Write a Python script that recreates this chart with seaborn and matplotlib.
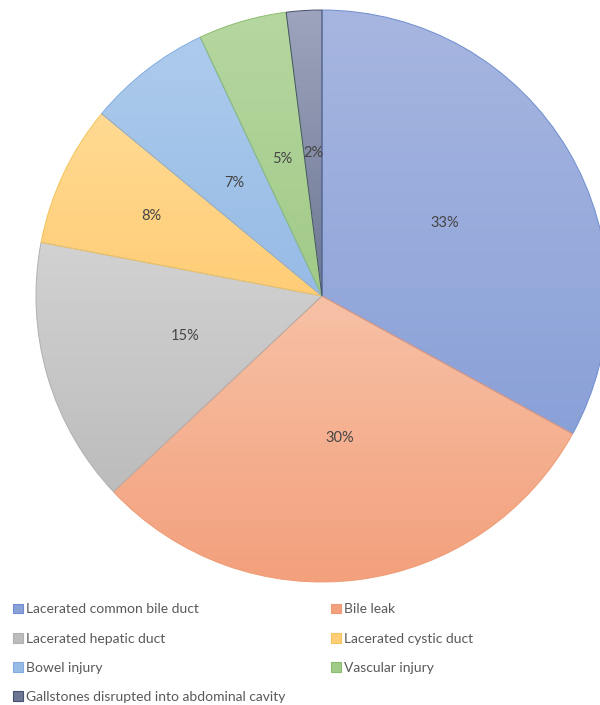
import numpy as np
import matplotlib
matplotlib.use("Agg")
import matplotlib.pyplot as plt
from matplotlib.colors import LinearSegmentedColormap
from matplotlib.patches import Patch
import seaborn as sns

categories = ['Lacerated common bile duct', 'Bile leak', 'Lacerated hepatic duct',
              'Lacerated cystic duct', 'Bowel injury', 'Vascular injury',
              'Gallstones disrupted into abdominal cavity']
shares = [33, 30, 15, 8, 7, 5, 2]
pct_labels = ['33%', '30%', '15%', '8%', '7%', '5%', '2%']

top_colors = ['#a7b6e0', '#f7c1a6', '#d2d2d2', '#ffda93', '#adcbec', '#b6d7a0', '#9ea4bd']
bottom_colors = ['#8aa1d8', '#f3a07c', '#bcbcbc', '#ffcd76', '#96bbe6', '#a1ca88', '#6d7793']
edge_colors = ['#6f8dd0', '#ee9a74', '#b0b0b0', '#f3c45e', '#82acdf', '#8cbd6f', '#46516e']

sns.set_theme(style="white")
plt.rcParams['font.family'] = ['Lato', 'DejaVu Sans']

fig = plt.figure(figsize=(6, 7.05), dpi=100)
ax = fig.add_axes([0, 0, 1, 1])

wedges, _ = ax.pie(shares, startangle=90, counterclock=False, radius=1,
                   wedgeprops=dict(linewidth=0.7))

grad = np.linspace(0, 1, 256).reshape(-1, 1)
for w, top, bot, ec in zip(wedges, top_colors, bottom_colors, edge_colors):
    w.set_facecolor('none')
    w.set_edgecolor(ec)
    w.set_zorder(3)
    ext = w.get_path().get_extents()
    cmap = LinearSegmentedColormap.from_list('g', [bot, top])
    im = ax.imshow(grad, cmap=cmap, origin='lower', aspect='auto',
                   extent=[ext.x0, ext.x1, ext.y0, ext.y1], zorder=2)
    im.set_clip_path(w)

# percentage labels (Excel "best fit" pushes the 8% one outward)
label_r = [0.5, 0.5, 0.5, 0.66, 0.5, 0.5, 0.5]
for w, txt, r in zip(wedges, pct_labels, label_r):
    mid = np.deg2rad((w.theta1 + w.theta2) / 2)
    ax.text(r * np.cos(mid), r * np.sin(mid), txt, ha='center', va='center',
            fontsize=10.5, color='#454545', zorder=5)

ax.set_xlim(-322 / 286, 278 / 286)
ax.set_ylim(-409 / 286, 296 / 286)
ax.set_aspect('auto')
ax.axis('off')

order = [0, 2, 4, 6, 1, 3, 5]
handles = [Patch(facecolor=bottom_colors[i], edgecolor=edge_colors[i], linewidth=0.8)
           for i in order]
fig.legend(handles, [categories[i] for i in order], ncol=2, loc='upper left',
           bbox_to_anchor=(0.022, 0.144), frameon=False, fontsize=10,
           handlelength=0.7, handleheight=0.7, handletextpad=0.25,
           labelspacing=1.24, columnspacing=3.25, borderaxespad=0, borderpad=0,
           labelcolor='#595959')

fig.savefig('out.png', dpi=100, facecolor='white')
